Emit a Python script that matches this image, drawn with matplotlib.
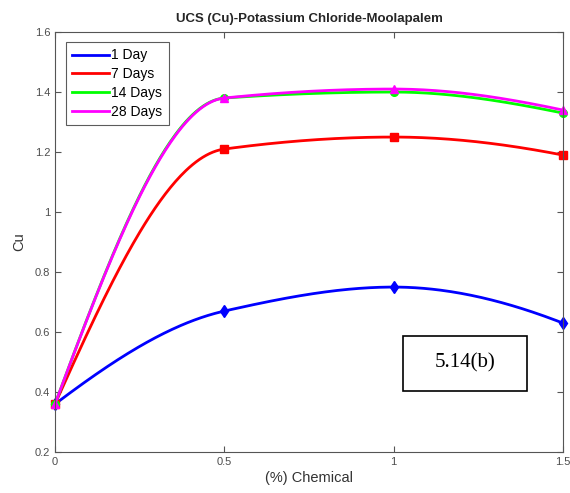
import numpy as np
import matplotlib
matplotlib.use('Agg')
from matplotlib import pyplot as plt
from matplotlib.patches import Rectangle

plt.rcParams['font.family'] = ['Liberation Sans', 'DejaVu Sans']

chemical = [0, 0.5, 1.0, 1.5]
day_1 = [0.36, 0.67, 0.75, 0.63]
days_7 = [0.36, 1.21, 1.25, 1.19]
days_14 = [0.36, 1.38, 1.40, 1.33]
days_28 = [0.36, 1.38, 1.41, 1.34]

labels = ['1 Day', '7 Days', '14 Days', '28 Days']
colors = ['#0000ff', '#ff0000', '#00ff00', '#ff00ff']
markers = ['d', 's', 'o', '^']
msizes = [6, 5.5, 5.5, 6]


def pchip(x, y, xs):
    '''
    shape preserving cubic interpolation (like MATLAB pchip) for the curve
    '''
    x = np.asarray(x, float)
    y = np.asarray(y, float)
    h = np.diff(x)
    d = np.diff(y) / h
    n = len(x)
    m = np.zeros(n)
    for k in range(1, n - 1):
        if d[k - 1] * d[k] > 0:
            w1 = 2 * h[k] + h[k - 1]
            w2 = h[k] + 2 * h[k - 1]
            m[k] = (w1 + w2) / (w1 / d[k - 1] + w2 / d[k])
    # end slopes
    for k, (i, j) in [(0, (0, 1)), (n - 1, (n - 2, n - 3))]:
        hi, hj = h[i], h[j]
        di, dj = d[i], d[j]
        s = ((2 * hi + hj) * di - hi * dj) / (hi + hj)
        if np.sign(s) != np.sign(di):
            s = 0
        elif np.sign(di) != np.sign(dj) and abs(s) > abs(3 * di):
            s = 3 * di
        m[k] = s
    out = np.empty_like(xs)
    for i, xv in enumerate(xs):
        k = min(np.searchsorted(x, xv, side='right') - 1, n - 2)
        t = (xv - x[k]) / h[k]
        h00 = 2 * t**3 - 3 * t**2 + 1
        h10 = t**3 - 2 * t**2 + t
        h01 = -2 * t**3 + 3 * t**2
        h11 = t**3 - t**2
        out[i] = (h00 * y[k] + h10 * h[k] * m[k]
                  + h01 * y[k + 1] + h11 * h[k] * m[k + 1])
    return out


fig = plt.figure(figsize=(5.70, 4.93), dpi=100)
ax = fig.add_axes([0.0965, 0.083, 0.891, 0.852])

xs = np.linspace(chemical[0], chemical[-1], 300)
for series, lab, c, mk, ms in zip([day_1, days_7, days_14, days_28],
                                  labels, colors, markers, msizes):
    ax.plot(xs, pchip(chemical, series, xs), color=c, lw=2, label=lab)
    ax.plot(chemical, series, linestyle='none', marker=mk, color=c,
            markersize=ms, clip_on=False)

ax.set_xlim(0, 1.5)
ax.set_ylim(0.2, 1.6)
ax.set_xticks([0, 0.5, 1, 1.5])
ax.set_xticklabels(['0', '0.5', '1', '1.5'])
ax.set_yticks(np.arange(0.2, 1.61, 0.2))
ax.set_yticklabels(['0.2', '0.4', '0.6', '0.8', '1', '1.2', '1.4', '1.6'])
ax.tick_params(direction='in', top=True, right=True, length=4,
               labelsize=8, colors='#555555', labelcolor='#4d4d4d')
for sp in ax.spines.values():
    sp.set_color('#555555')
    sp.set_linewidth(0.8)

ax.set_title('UCS (Cu)-Potassium Chloride-Moolapalem', fontsize=9.5,
             fontweight='bold', color='#262626', pad=7)
ax.set_xlabel('(%) Chemical', fontsize=10.5, color='#333333', labelpad=3)
ax.set_ylabel('Cu', fontsize=10.5, color='#333333', labelpad=6)

leg = ax.legend(loc='upper left', fontsize=10, frameon=True, fancybox=False,
                edgecolor='#333333', handlelength=2.6, handletextpad=0.2,
                borderpad=0.45, labelspacing=0.35, borderaxespad=0,
                bbox_to_anchor=(0.022, 0.976))
leg.get_frame().set_linewidth(0.8)

fig.patches.append(Rectangle((0.707, 0.207), 0.218, 0.111,
                             transform=fig.transFigure, fill=False,
                             edgecolor='black', lw=1.2))
fig.text(0.816, 0.263, '5.14(b)', family='Liberation Serif', fontsize=15,
         ha='center', va='center', color='black')

plt.savefig('out.png', dpi=100)
